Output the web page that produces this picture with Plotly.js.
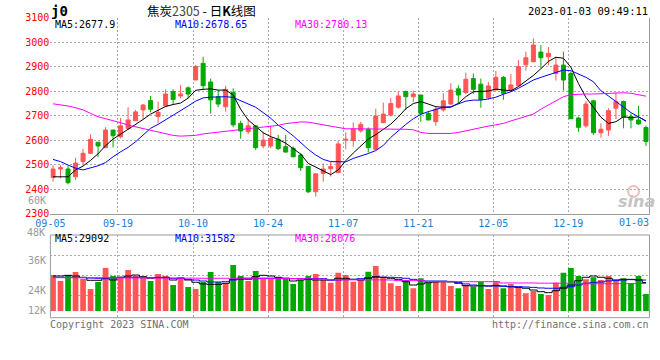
<!DOCTYPE html>
<html><head><meta charset="utf-8">
<script src="https://cdn.plot.ly/plotly-3.0.1.min.js"></script>
<style>html,body{margin:0;padding:0;background:#fff;}#chart{width:660px;height:360px;}</style>
</head><body><div id="chart"></div>
<script>
// ---------- data ----------
const dates = ['09-05','09-06','09-07','09-08','09-09','09-13','09-14','09-15','09-16',
 '09-19','09-20','09-21','09-22','09-23','09-26','09-27','09-28','09-29','09-30',
 '10-10','10-11','10-12','10-13','10-14','10-17','10-18','10-19','10-20','10-21',
 '10-24','10-25','10-26','10-27','10-28','10-31','11-01','11-02','11-03','11-04',
 '11-07','11-08','11-09','11-10','11-11','11-14','11-15','11-16','11-17','11-18',
 '11-21','11-22','11-23','11-24','11-25','11-28','11-29','11-30','12-01','12-02',
 '12-05','12-06','12-07','12-08','12-09','12-12','12-13','12-14','12-15','12-16',
 '12-19','12-20','12-21','12-22','12-23','12-26','12-27','12-28','12-29','12-30','01-03'];
const open  = [2449,2483,2483,2451,2513,2547,2592,2570,2642,2615, 2648,2680,2724,2762,2697,2740,2799,2781,2814,2846,
               2914,2838,2778,2737,2795,2669,2635,2659,2577,2577, 2604,2574,2567,2540,2493,2390,2465,2484,2468,2601,
               2599,2639,2645,2563,2672,2703,2735,2799,2778,2785, 2710,2676,2724,2748,2810,2795,2852,2829,2774,2805,
               2857,2805,2823,2908,2921,2960,2941,2873,2907,2873, 2691,2659,2761,2631,2642,2731,2758,2697,2683,2652];
const high  = [2498,2498,2495,2528,2565,2625,2592,2653,2642,2691, 2735,2724,2748,2781,2758,2808,2808,2826,2820,2908,
               2941,2852,2805,2822,2812,2680,2687,2659,2635,2659, 2622,2622,2575,2547,2493,2465,2506,2513,2596,2633,
               2673,2675,2653,2729,2754,2771,2799,2803,2803,2785, 2720,2737,2792,2833,2824,2876,2873,2852,2838,2883,
               2862,2871,2928,2962,3016,2989,2980,2941,2962,2880, 2697,2761,2765,2669,2731,2795,2762,2710,2740,2660];
const low   = [2431,2445,2420,2438,2503,2547,2531,2570,2571,2608, 2642,2680,2686,2714,2669,2735,2744,2771,2771,2846,
               2805,2709,2735,2717,2653,2607,2625,2561,2567,2567, 2560,2550,2530,2475,2384,2370,2431,2452,2466,2563,
               2574,2631,2550,2561,2670,2697,2729,2724,2756,2675, 2683,2659,2717,2744,2751,2789,2789,2733,2765,2805,
               2765,2799,2820,2884,2918,2894,2905,2844,2803,2688, 2635,2652,2622,2611,2618,2687,2649,2649,2663,2577];
const close = [2483,2488,2427,2507,2547,2604,2577,2642,2619,2659, 2683,2716,2744,2727,2714,2789,2767,2789,2789,2901,
               2823,2765,2748,2808,2663,2638,2659,2570,2601,2608, 2566,2552,2533,2488,2390,2463,2483,2493,2585,2604,
               2646,2665,2570,2699,2707,2750,2781,2778,2789,2710, 2683,2727,2761,2805,2785,2849,2808,2767,2822,2857,
               2792,2826,2901,2937,2989,2937,2955,2907,2846,2688, 2653,2748,2631,2645,2721,2758,2694,2683,2667,2595];
const ma5   = [2451,2451,2451,2479,2495,2518,2545,2578,2605,2625, 2644,2664,2685,2707,2724,2738,2746,2752,2772,2804,
               2808,2810,2805,2805,2785,2727,2683,2656,2631,2615, 2604,2588,2567,2544,2506,2490,2476,2460,2479,2517,
               2548,2578,2605,2623,2644,2666,2695,2729,2750,2758, 2748,2737,2735,2735,2751,2778,2798,2801,2801,2809,
               2804,2802,2819,2842,2865,2892,2922,2939,2935,2898, 2832,2775,2735,2694,2669,2676,2696,2692,2696,2678];
const ma10  = [2522,2513,2499,2486,2479,2486,2496,2509,2533,2553, 2571,2594,2622,2649,2665,2683,2703,2721,2740,2760,
               2773,2776,2778,2778,2775,2762,2748,2735,2713,2690, 2662,2642,2618,2590,2563,2540,2522,2513,2511,2512,
               2526,2535,2546,2558,2579,2612,2640,2665,2688,2706, 2717,2727,2735,2737,2748,2760,2764,2764,2769,2776,
               2788,2798,2812,2829,2846,2857,2867,2876,2887,2884, 2871,2857,2839,2802,2781,2758,2735,2713,2696,2679];
const ma30  = [2749,2745,2740,2733,2724,2710,2696,2688,2681,2672, 2662,2655,2647,2640,2633,2626,2620,2617,2617,2620,
               2626,2630,2634,2638,2642,2645,2648,2651,2654,2657, 2661,2668,2673,2675,2674,2668,2663,2657,2651,2647,
               2647,2647,2647,2646,2646,2645,2645,2645,2643,2632, 2628,2628,2628,2628,2632,2639,2646,2651,2658,2663,
               2669,2679,2688,2696,2707,2727,2744,2764,2778,2786, 2789,2789,2789,2790,2792,2794,2794,2792,2785,2780];
const volume = [36700,30600,36700,39800,32700,22400,29600,43900,35700,34400, 41800,35700,33400,30600,37800,35700,26500,34400,24500,22400,
                29600,39800,29600,28600,46900,35700,30600,40800,32700,32700, 34400,32700,27600,31600,35700,37800,31600,28900,39100,36700,
                29900,31600,40100,45900,35000,28300,25500,31600,23200,33400, 28900,30600,30600,25500,23200,26500,24800,29900,22400,30600,
                23200,27600,24800,18100,20400,17300,16300,28900,39100,43900, 35700,32300,34400,31600,35700,30900,33400,28300,35700,17300];
const volMa5 = [35700,35700,36400,35700,34400,31300,31300,33000,31600,34400, 35700,36700,35000,33400,34000,34400,31600,33400,31600,29300,
                27600,27200,27200,28300,32300,33400,33400,35000,36400,35700, 34400,33400,30600,31600,32300,31600,31600,31600,33400,33400,
                32300,31600,33400,35000,34400,33400,32300,29900,26500,27600, 28900,29600,29900,29600,28300,25800,25500,25800,25500,26200,
                25500,24800,24100,23200,21400,19700,18700,20700,23200,26500, 30900,34400,35700,34400,33400,31600,32300,32300,31600,29092];
const volMa10 = [34400,34400,34400,34400,34000,33600,33400,33400,34000,34400, 34400,34400,34000,34000,34400,34000,33400,33400,32300,31600,
                 30600,29600,29600,29900,31600,32300,32300,33000,33400,33400, 33400,33400,33000,33000,33000,33000,33000,31600,31600,32000,
                 32300,33000,34000,34400,34400,34400,34000,33400,32300,31000, 30600,30600,30600,30200,29000,27600,26500,25800,25500,25500,
                 25200,24800,24800,24500,24100,23500,23200,23200,24100,24800, 26500,28300,28900,29600,30600,31300,31600,32000,31900,31582];
const volMa30 = [34000,34000,34000,34000,34000,34000,34000,33900,33900,33800, 33700,33700,33700,33700,33600,33600,33600,33500,33500,33500,
                 33400,33400,33400,33400,33400,33400,33400,33400,33400,33400, 33300,33200,33100,33000,32900,32700,32500,31900,31800,31800,
                 31800,31800,31800,31800,31800,31600,31000,31000,31000,31000, 30000,30000,30000,30000,30000,29900,29900,29900,29900,29900,
                 28600,28600,28600,28600,28600,28400,28400,28400,28300,28300, 27900,27800,27800,27800,27800,27900,28000,28000,28100,28076];
const priceTicks = [2300,2400,2500,2600,2700,2800,2900,3000,3100];
const dateLabels = ['09-05','09-19','10-10','10-24','11-07','11-21','12-05','12-19'];
const lastDateLabel = '01-03';
const volLabels = ['48K','36K','24K','12K'];
const maPriceText = ['MA5:2677.9','MA10:2678.65','MA30:2780.13'];
const maVolText = ['MA5:29092','MA10:31582','MA30:28076'];
const titleText = '焦炭<span style="color:#444">2305</span> - 日<b>K</b>线图';
const codeText = 'j0';
const timeText = '2023-01-03 09:49:11';

// ---------- drawing ----------
const W = 660, H = 360;
const PX = v => v / W, PY = v => 1 - v / H;
const RED = '#ff5555', GREEN = '#00a800';
const MONO = 'DejaVu Sans Mono';
const GRID = '#a8a8a8', FRAME = '#9a9a9a';
const idx = dates.map((d, i) => i);
const barColors = close.map((c, i) => c >= open[i] ? RED : GREEN);
const SLOT = 0.35;

const traces = [
  {type:'candlestick', x:idx, open:open, high:high, low:low, close:close, xaxis:'x', yaxis:'y',
   increasing:{line:{color:RED,width:1}, fillcolor:RED},
   decreasing:{line:{color:GREEN,width:1}, fillcolor:GREEN},
   whiskerwidth:0, hoverinfo:'skip'},
  {type:'scatter', mode:'lines', x:idx, y:ma5, line:{color:'#000000',width:1}, xaxis:'x', yaxis:'y', hoverinfo:'skip'},
  {type:'scatter', mode:'lines', x:idx, y:ma10, line:{color:'#0000ff',width:1}, xaxis:'x', yaxis:'y', hoverinfo:'skip'},
  {type:'scatter', mode:'lines', x:idx, y:ma30, line:{color:'#ff00ff',width:1}, xaxis:'x', yaxis:'y', hoverinfo:'skip'},
  {type:'bar', x:idx, y:volume, marker:{color:barColors, line:{width:0}}, xaxis:'x', yaxis:'y2', hoverinfo:'skip'},
  {type:'scatter', mode:'lines', x:idx, y:volMa5, line:{color:'#000000',width:1,shape:'hvh'}, xaxis:'x', yaxis:'y2', hoverinfo:'skip'},
  {type:'scatter', mode:'lines', x:idx, y:volMa10, line:{color:'#0000ff',width:1,shape:'hvh'}, xaxis:'x', yaxis:'y2', hoverinfo:'skip'},
  {type:'scatter', mode:'lines', x:idx, y:volMa30, line:{color:'#ff00ff',width:1,shape:'hvh'}, xaxis:'x', yaxis:'y2', hoverinfo:'skip'}
];

function ann(text, x, y, color, size, xanchor, extra) {
  return Object.assign({text:text, x:PX(x), y:PY(y), xref:'paper', yref:'paper', showarrow:false,
    xanchor:xanchor || 'left', yanchor:'middle', font:{family:MONO, size:size, color:color}, borderpad:0}, extra || {});
}

const annotations = [
  ann(codeText, 50, 10.5, '#000', 14, 'left', {font:{family:MONO, size:14, color:'#000', weight:'bold'}}),
  ann(titleText, 201, 10, '#000', 12.5, 'center', {font:{family:'Noto Sans CJK SC', size:12.5, color:'#000'}}),
  ann(timeText, 649, 11, '#000', 10.5, 'right'),
  ann(maPriceText[0], 54, 24.5, '#000', 10),
  ann(maPriceText[1], 174, 24.5, '#0000ff', 10),
  ann(maPriceText[2], 294, 24.5, '#ff00ff', 10),
  ann(maVolText[0], 54, 238.5, '#000', 10),
  ann(maVolText[1], 174, 238.5, '#0000ff', 10),
  ann(maVolText[2], 294, 238.5, '#ff00ff', 10),
  ann(lastDateLabel, 649.5, 222, '#1580d8', 10, 'right'),
  ann(volLabels[0], 46, 232.5, '#999', 10, 'right'),
  ann(volLabels[1], 47, 260.7, '#999', 10, 'right'),
  ann(volLabels[2], 47, 290, '#999', 10, 'right'),
  ann(volLabels[3], 47, 310, '#999', 10, 'right'),
  ann('60K', 47, 200.5, '#999', 10, 'right'),
  ann('Copyright 2023 SINA.COM', 49, 324, '#707070', 10),
  ann('http://finance.sina.com.cn', 650, 324, '#707070', 10, 'right'),
  ann('<i><b>sina</b></i>', 636, 201, '#c4c4c4', 16, 'center', {font:{family:'DejaVu Sans', size:16, color:'#c4c4c4'}})
];

const shapes = [
  {type:'line', xref:'x domain', yref:'y domain', x0:1, x1:1, y0:0, y1:1, line:{color:FRAME,width:1}},
  {type:'rect', xref:'x domain', yref:'y2 domain', x0:0, x1:1, y0:0, y1:1, line:{color:FRAME,width:1}, fillcolor:'rgba(0,0,0,0)'},
  {type:'circle', xref:'paper', yref:'paper', x0:PX(628), x1:PX(639), y0:PY(197), y1:PY(186), line:{color:'#f2bcbc',width:2}, fillcolor:'rgba(0,0,0,0)', layer:'below'}
];

const layout = {
  width:W, height:H, autosize:false,
  margin:{l:0, r:0, t:0, b:0, pad:0},
  paper_bgcolor:'#fff', plot_bgcolor:'#fff',
  showlegend:false, hovermode:false, dragmode:false,
  boxgap:0.24, bargap:0.24,
  font:{family:MONO, size:10, color:'#000'},
  xaxis:{domain:[PX(50.4), PX(649.5)], range:[-SLOT, 79.47], anchor:'y',
    tickvals:dateLabels.map(d => dates.indexOf(d) - SLOT), ticktext:dateLabels,
    tickfont:{family:MONO, size:10, color:'#1580d8'}, ticks:'',
    showgrid:true, gridcolor:GRID, griddash:'2px,2px', gridwidth:1,
    showline:true, linecolor:FRAME, linewidth:1, zeroline:false,
    rangeslider:{visible:false}, fixedrange:true},
  yaxis:{domain:[PY(213.8), PY(17.8)], range:[priceTicks[0], priceTicks[priceTicks.length-1]], anchor:'x',
    tickvals:priceTicks, ticks:'', tickfont:{family:MONO, size:10, color:'#ff0000'},
    showgrid:true, gridcolor:GRID, griddash:'2px,2px', gridwidth:1,
    showline:false, zeroline:false, fixedrange:true},
  yaxis2:{domain:[PY(317.7), PY(235)], range:[-6840, 77550], anchor:'x',
    tickvals:[16300, 36700, 57100], showticklabels:false, ticks:'',
    showgrid:true, gridcolor:GRID, griddash:'2px,2px', gridwidth:1,
    showline:false, zeroline:false, fixedrange:true},
  annotations:annotations, shapes:shapes
};

Plotly.newPlot('chart', traces, layout, {staticPlot:true, displayModeBar:false});
</script>
</body></html>
